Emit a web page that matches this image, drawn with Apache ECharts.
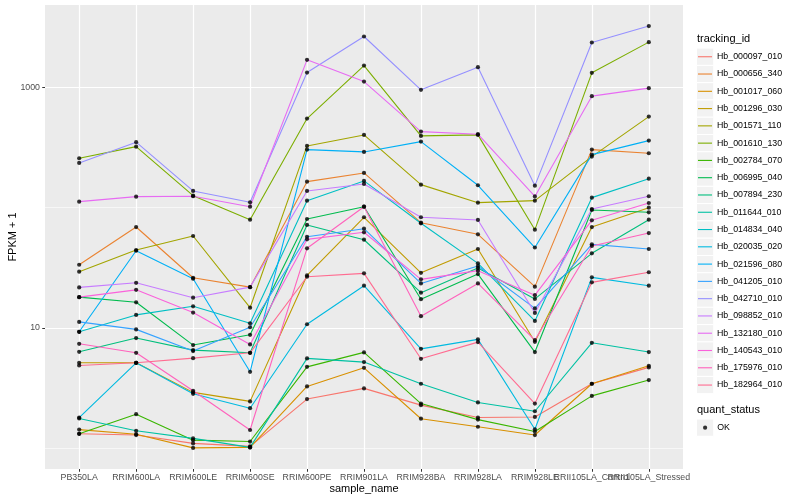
<!DOCTYPE html>
<html><head><meta charset="utf-8">
<script src="https://cdn.jsdelivr.net/npm/echarts@6/dist/echarts.min.js"></script>
<style>html,body{margin:0;padding:0;background:#fff}#c{width:800px;height:500px}</style>
</head><body><div id="c"></div>
<script>
const categories = ['PB350LA','RRIM600LA','RRIM600LE','RRIM600SE','RRIM600PE','RRIM901LA','RRIM928BA','RRIM928LA','RRIM928LE','RRII105LA_Control','RRII105LA_Stressed'];
const trackingIds = ['Hb_000097_010','Hb_000656_340','Hb_001017_060','Hb_001296_030','Hb_001571_110','Hb_001610_130','Hb_002784_070','Hb_006995_040','Hb_007894_230','Hb_011644_010','Hb_014834_040','Hb_020035_020','Hb_021596_080','Hb_041205_010','Hb_042710_010','Hb_098852_010','Hb_132180_010','Hb_140543_010','Hb_175976_010','Hb_182964_010'];
const hueColors = ['#F8766D','#EA8331','#D89000','#C09B00','#A3A500','#7CAE00','#39B600','#00BB4E','#00BF7D','#00C1A3','#00BFC4','#00BAE0','#00B0F6','#35A2FF','#9590FF','#C77CFF','#E76BF3','#FA62DB','#FF62BC','#FF6C91'];

// FPKM + 1 per sample, in category order
const Hb_000097_010 = [1.31, 1.28, 1.09, 1.03, 2.55, 3.13, 2.27, 1.79, 1.81, 3.42, 4.68];
const Hb_000656_340 = [33.5, 69.0, 26.1, 21.8, 164.7, 194.6, 75.0, 60.0, 22.0, 304.3, 284.0];
const Hb_001017_060 = [1.42, 1.30, 1.00, 1.01, 3.25, 4.64, 1.75, 1.50, 1.28, 3.42, 4.83];
const Hb_001296_030 = [5.11, 5.11, 2.90, 2.44, 27.3, 83.2, 28.7, 45.3, 7.64, 69.0, 100.0];
const Hb_001571_110 = [29.3, 44.4, 58.1, 14.7, 326.7, 403.4, 155.5, 110.1, 114.4, 266.1, 573.3];
const Hb_001610_130 = [258.0, 322.3, 125.9, 79.4, 551.7, 1525, 395.9, 403.5, 65.6, 1326, 2389];
const Hb_002784_070 = [1.31, 1.91, 1.16, 1.13, 4.73, 6.24, 2.34, 1.72, 1.37, 2.71, 3.67];
const Hb_006995_040 = [18.0, 16.3, 7.18, 8.74, 80.5, 101.9, 17.3, 28.0, 6.28, 95.7, 91.5];
const Hb_007894_230 = [6.31, 8.21, 6.52, 6.19, 71.8, 54.1, 19.6, 31.4, 17.4, 41.7, 79.4];
const Hb_011644_010 = [1.76, 1.39, 1.20, 1.01, 5.56, 5.18, 3.42, 2.39, 2.02, 7.50, 6.28];
const Hb_014834_040 = [9.26, 12.8, 15.1, 10.9, 114.4, 167.0, 74.1, 34.4, 11.4, 121.2, 174.4];
const Hb_020035_020 = [1.79, 5.11, 2.82, 2.14, 10.7, 22.4, 6.68, 8.01, 1.43, 26.3, 22.4];
const Hb_021596_080 = [9.26, 43.8, 25.6, 4.30, 304.3, 291.2, 354.8, 153.7, 46.6, 276.5, 361.6];
const Hb_041205_010 = [11.2, 9.70, 6.40, 10.1, 57.3, 66.8, 23.4, 32.7, 14.5, 49.5, 45.3];
const Hb_042710_010 = [235.8, 350.8, 137.8, 110.9, 1334, 2661, 956.8, 1479, 152.5, 2371, 3249];
const Hb_098852_010 = [21.7, 23.7, 17.8, 21.8, 137.8, 157.6, 83.2, 79.0, 13.3, 97.5, 124.5];
const Hb_132180_010 = [112.2, 123.5, 124.5, 101.9, 1701, 1122, 429.9, 408.9, 124.0, 847.9, 988.5];
const Hb_140543_010 = [18.0, 20.7, 13.4, 7.27, 54.5, 62.4, 25.3, 29.9, 18.7, 78.5, 109.4];
const Hb_175976_010 = [7.36, 6.19, 2.99, 1.41, 45.9, 101.9, 12.5, 23.4, 7.90, 48.0, 61.5];
const Hb_182964_010 = [4.86, 5.11, 5.59, 6.19, 26.6, 28.4, 5.52, 7.60, 2.34, 23.9, 29.0];

const seriesValues = [Hb_000097_010, Hb_000656_340, Hb_001017_060, Hb_001296_030, Hb_001571_110, Hb_001610_130, Hb_002784_070, Hb_006995_040, Hb_007894_230, Hb_011644_010, Hb_014834_040, Hb_020035_020, Hb_021596_080, Hb_041205_010, Hb_042710_010, Hb_098852_010, Hb_132180_010, Hb_140543_010, Hb_175976_010, Hb_182964_010];

const yMajorTicks = [10, 1000];
const yMinorTicks = [1, 100];
const quantStatus = 'OK';

// ggplot-like 5% expansion in log space
const all = seriesValues.flat();
const lo = Math.log10(Math.min(...all)), hi = Math.log10(Math.max(...all));
const span = hi - lo;
const yMin = Math.pow(10, lo - 0.05 * span), yMax = Math.pow(10, hi + 0.05 * span);
const xIdx = categories.map((c, i) => i);
const xEven = xIdx.filter(i => i % 2 === 0), xOdd = xIdx.filter(i => i % 2 === 1);

const FONT = '"Liberation Sans", Arial, sans-serif';

const lineSeries = seriesValues.map((vals, k) => ({
  name: trackingIds[k], type: 'line', data: vals.map((v, i) => [i, v]),
  symbol: 'none', showSymbol: false, silent: true,
  color: hueColors[k],
  lineStyle: { width: 1.1, color: hueColors[k] }
}));
const pointSeries = {
  name: quantStatus, type: 'scatter', symbol: 'circle', symbolSize: 4.2, silent: true,
  itemStyle: { color: '#000' }, z: 5,
  data: seriesValues.flatMap(vals => vals.map((v, i) => [i, v]))
};

const keyGraphics = [];
const KEY = 17.28, KX = 696.5, KY0 = 48.1;
trackingIds.forEach((t, i) => keyGraphics.push({ type: 'rect', z: -1, shape: { x: KX, y: KY0 + i * KEY, width: KEY, height: KEY }, style: { fill: '#F2F2F2', stroke: '#fff', lineWidth: 1 } }));
keyGraphics.push({ type: 'rect', z: -1, shape: { x: KX, y: 419, width: KEY, height: KEY }, style: { fill: '#F2F2F2', stroke: '#fff', lineWidth: 1 } });
keyGraphics.push({ type: 'text', left: 697, top: 33, style: { text: 'tracking_id', font: '11px ' + FONT, fill: '#000' } });
keyGraphics.push({ type: 'text', left: 697, top: 404, style: { text: 'quant_status', font: '11px ' + FONT, fill: '#000' } });
// panel background
keyGraphics.push({ type: 'rect', z: -10, shape: { x: 45, y: 5, width: 638, height: 464 }, style: { fill: '#EBEBEB' } });

const xLabelStyle = { formatter: v => categories[Math.round(v)], fontSize: 8.8, color: '#4D4D4D', margin: 4.5, fontFamily: FONT, hideOverlap: false };

const chart = echarts.init(document.getElementById('c'), null, { renderer: 'canvas' });
chart.setOption({
  animation: false,
  backgroundColor: '#fff',
  textStyle: { fontFamily: FONT },
  grid: { left: 45, right: 117, top: 5, bottom: 31, containLabel: false, outerBoundsMode: 'none' },
  graphic: keyGraphics,
  xAxis: [{
    type: 'value', min: -0.6, max: 10.6, position: 'bottom',
    name: 'sample_name', nameLocation: 'middle', nameGap: 14, nameMoveOverlap: false,
    nameTextStyle: { fontSize: 11, color: '#000', fontFamily: FONT },
    axisLine: { show: false, onZero: false },
    axisTick: { show: true, customValues: xIdx, length: 2.75, lineStyle: { color: '#333', width: 1 } },
    axisLabel: Object.assign({ customValues: xEven }, xLabelStyle),
    splitLine: { show: true, lineStyle: { color: '#fff', width: 1.2 } }
  }, {
    type: 'value', min: -0.6, max: 10.6, position: 'bottom', offset: 0,
    axisLine: { show: false, onZero: false },
    axisTick: { show: false, customValues: xOdd },
    axisLabel: Object.assign({ customValues: xOdd }, xLabelStyle),
    splitLine: { show: false }
  }],
  yAxis: [{
    type: 'log', min: yMin, max: yMax, position: 'left',
    name: 'FPKM + 1', nameLocation: 'middle', nameGap: 27, nameMoveOverlap: false,
    nameTextStyle: { fontSize: 11, color: '#000', fontFamily: FONT },
    axisLine: { show: false, onZero: false },
    axisTick: { show: true, customValues: yMajorTicks, length: 2.75, lineStyle: { color: '#333', width: 1 } },
    axisLabel: { customValues: yMajorTicks, formatter: v => String(Math.round(v)), fontSize: 8.8, color: '#4D4D4D', margin: 5, fontFamily: FONT },
    splitLine: { show: true, lineStyle: { color: '#fff', width: 1.2 } }
  }, {
    type: 'log', min: yMin, max: yMax, position: 'left', offset: 0,
    axisLine: { show: false, onZero: false }, axisTick: { show: false, customValues: yMinorTicks }, axisLabel: { show: false, customValues: yMinorTicks },
    splitLine: { show: true, lineStyle: { color: '#fff', width: 0.6 } }
  }],
  legend: [{
    data: trackingIds, orient: 'vertical', left: 698, top: KY0, padding: 0, itemGap: 0,
    itemWidth: 14, itemHeight: 1.1, icon: 'rect', selectedMode: false,
    textStyle: { fontSize: 8.8, color: '#000', lineHeight: KEY, fontFamily: FONT }
  }, {
    data: [quantStatus], orient: 'vertical', left: 703, top: 419, padding: 0, itemGap: 0,
    itemWidth: 4.2, itemHeight: 4.2, icon: 'circle', selectedMode: false,
    textStyle: { fontSize: 8.8, color: '#000', lineHeight: KEY, padding: [0, 0, 0, 5], fontFamily: FONT }
  }],
  series: [...lineSeries, pointSeries]
});
</script></body></html>
